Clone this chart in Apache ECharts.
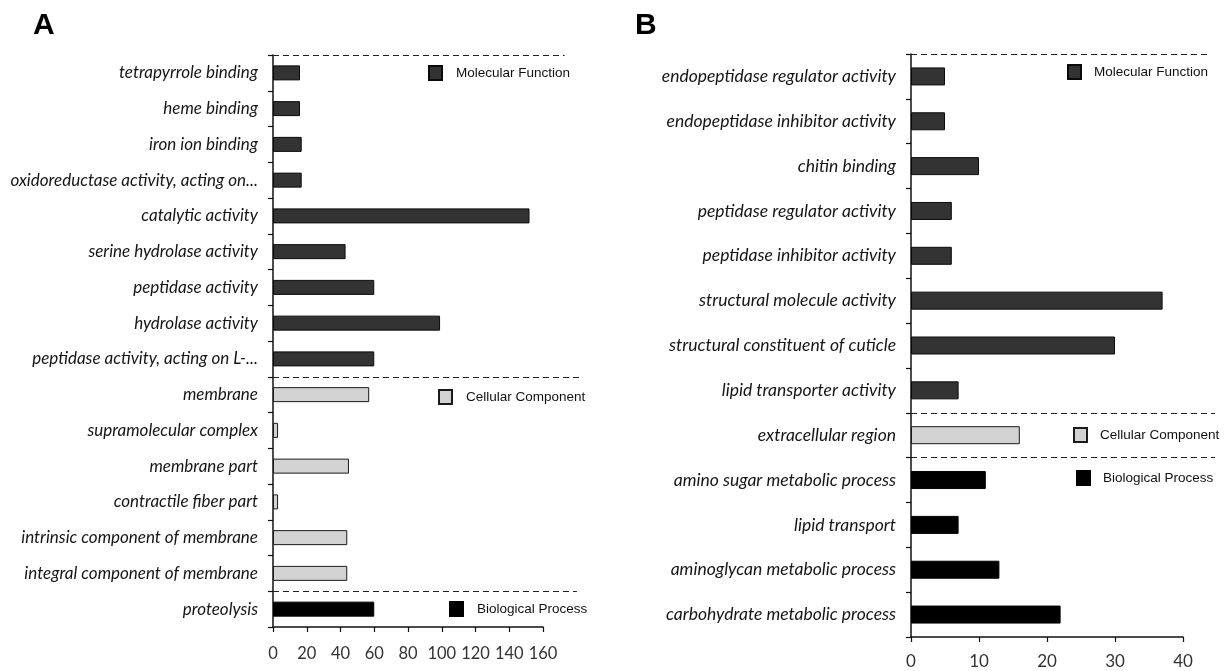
<!DOCTYPE html>
<html>
<head>
<meta charset="utf-8">
<script src="https://cdn.jsdelivr.net/npm/echarts@6/dist/echarts.min.js"></script>
<style>
  html, body { margin: 0; padding: 0; background: #fff; }
  #chart { width: 1227px; height: 671px; }
</style>
</head>
<body>
<div id="chart"></div>
<script>
// ---- Panel A: GO terms ----
const mfLabelsA = [
  'tetrapyrrole binding', 'heme binding', 'iron ion binding',
  'oxidoreductase activity, acting on...', 'catalytic activity',
  'serine hydrolase activity', 'peptidase activity', 'hydrolase activity',
  'peptidase activity, acting on L-...'
];
const mfValuesA = [16, 16, 17, 17, 152, 43, 60, 99, 60];
const ccLabelsA = [
  'membrane', 'supramolecular complex', 'membrane part',
  'contractile fiber part', 'intrinsic component of membrane',
  'integral component of membrane'
];
const ccValuesA = [57, 3, 45, 3, 44, 44];
const bpLabelsA = ['proteolysis'];
const bpValuesA = [60];
const ticksA = [0, 20, 40, 60, 80, 100, 120, 140, 160];

// ---- Panel B: GO terms ----
const mfLabelsB = [
  'endopeptidase regulator activity', 'endopeptidase inhibitor activity',
  'chitin binding', 'peptidase regulator activity', 'peptidase inhibitor activity',
  'structural molecule activity', 'structural constituent of cuticle',
  'lipid transporter activity'
];
const mfValuesB = [5, 5, 10, 6, 6, 37, 30, 7];
const ccLabelsB = ['extracellular region'];
const ccValuesB = [16];
const bpLabelsB = [
  'amino sugar metabolic process', 'lipid transport',
  'aminoglycan metabolic process', 'carbohydrate metabolic process'
];
const bpValuesB = [11, 7, 13, 22];
const ticksB = [0, 10, 20, 30, 40];

const groupNames = ['Molecular Function', 'Cellular Component', 'Biological Process'];
const groupFill = ['#333333', '#d2d2d2', '#000000'];
const groupBorder = ['#0a0a0a', '#1a1a1a', '#000000'];

const labelFont = 'Lato, "DejaVu Sans", sans-serif';
const legendFont = '"Liberation Sans", Arial, sans-serif';

function buildPanel(p, cfg) {
  const groups = cfg.groups;
  const categories = [].concat(...groups.map(g => g.labels));
  const n = categories.length;
  const grids = [], xAxes = [], yAxes = [], series = [], legends = [];
  const gi = p * 2;

  grids.push(cfg.grid);
  grids.push(cfg.overlay);

  xAxes.push({
    type: 'value', gridIndex: gi,
    min: cfg.ticks[0], max: cfg.ticks[cfg.ticks.length - 1],
    interval: cfg.ticks[1] - cfg.ticks[0],
    splitLine: { show: false },
    axisLine: { show: true, lineStyle: { color: '#111', width: 1.5 } },
    axisTick: { show: true, length: 5, lineStyle: { color: '#111', width: 1.2 } },
    axisLabel: { color: '#333', fontSize: cfg.tickFont, fontFamily: labelFont, margin: cfg.tickMargin }
  });
  xAxes.push({ type: 'value', gridIndex: gi + 1, min: 0, max: 100, show: false });

  yAxes.push({
    type: 'category', gridIndex: gi, data: categories, inverse: true,
    axisLine: { show: true, lineStyle: { color: '#111', width: 1.5 } },
    axisTick: { show: true, length: 5, lineStyle: { color: '#111', width: 1.2 } },
    axisLabel: {
      color: '#151515', fontSize: cfg.labelSize, fontStyle: 'italic',
      fontFamily: labelFont, margin: 15
    },
    splitLine: { show: false }
  });
  yAxes.push({ type: 'value', gridIndex: gi + 1, min: 0, max: n, inverse: true, show: false });

  // one bar series per GO category, placed on its own rows
  let offset = 0;
  groups.forEach((g, k) => {
    const data = categories.map(() => null);
    g.values.forEach((v, j) => { data[offset + j] = v; });
    series.push({
      name: groupNames[k], type: 'bar',
      xAxisIndex: gi, yAxisIndex: gi,
      data: data, barWidth: cfg.barWidth, barGap: '-100%',
      itemStyle: { color: groupFill[k], borderColor: groupBorder[k], borderWidth: 1 },
      emphasis: { disabled: true }
    });
    legends.push({
      data: [groupNames[k]], left: cfg.legendPos[k][0], top: cfg.legendPos[k][1],
      padding: 0, itemWidth: 13, itemHeight: 14, icon: 'rect',
      selectedMode: false,
      textStyle: { fontFamily: legendFont, fontSize: 13.5, color: '#111', padding: [0, 0, 0, cfg.legendTextGap] }
    });
    offset += g.values.length;
  });

  // dashed separators between the three GO categories
  const bounds = [0];
  let acc = 0;
  groups.slice(0, -1).forEach(g => { acc += g.values.length; bounds.push(acc); });
  series.push({
    type: 'line', xAxisIndex: gi + 1, yAxisIndex: gi + 1,
    data: [[0, 0]], showSymbol: false, lineStyle: { opacity: 0 }, silent: true,
    markLine: {
      silent: true, symbol: ['none', 'none'], label: { show: false },
      lineStyle: { type: [6, 4], color: '#222', width: 1.2 },
      data: bounds.map((b, i) => [{ coord: [0, b] }, { coord: [cfg.dashEnds[i], b] }])
    }
  });

  return { grids, xAxes, yAxes, series, legends };
}

const A = buildPanel(0, {
  groups: [
    { labels: mfLabelsA, values: mfValuesA },
    { labels: ccLabelsA, values: ccValuesA },
    { labels: bpLabelsA, values: bpValuesA }
  ],
  grid: { left: 273, right: 684, top: 55, bottom: 44 },
  overlay: { left: 273, right: 647, top: 55, bottom: 44 },
  ticks: ticksA, tickFont: 16.5, tickMargin: 18, labelSize: 17, barWidth: 15,
  legendPos: [[428, 65], [438, 389], [449, 601]],
  legendTextGap: 9,
  dashEnds: [95, 100, 99]
});

const B = buildPanel(1, {
  groups: [
    { labels: mfLabelsB, values: mfValuesB },
    { labels: ccLabelsB, values: ccValuesB },
    { labels: bpLabelsB, values: bpValuesB }
  ],
  grid: { left: 911, right: 44, top: 54, bottom: 34 },
  overlay: { left: 911, right: 12, top: 54, bottom: 34 },
  ticks: ticksB, tickFont: 17, tickMargin: 16, labelSize: 17.5, barWidth: 18,
  legendPos: [[1067, 64], [1073, 427], [1076, 470]],
  legendTextGap: 8,
  dashEnds: [98, 100, 100]
});

const chart = echarts.init(document.getElementById('chart'), null, { renderer: 'canvas' });
chart.setOption({
  backgroundColor: '#ffffff',
  animation: false,
  title: [
    { text: 'A', left: 33, top: 11, padding: 0,
      textStyle: { fontSize: 30, fontWeight: 'bold', color: '#000', fontFamily: '"Liberation Sans", Arial, sans-serif' } },
    { text: 'B', left: 635, top: 11, padding: 0,
      textStyle: { fontSize: 30, fontWeight: 'bold', color: '#000', fontFamily: '"Liberation Sans", Arial, sans-serif' } }
  ],
  grid: A.grids.concat(B.grids),
  xAxis: A.xAxes.concat(B.xAxes),
  yAxis: A.yAxes.concat(B.yAxes),
  legend: A.legends.concat(B.legends),
  series: A.series.concat(B.series)
});
</script>
</body>
</html>
